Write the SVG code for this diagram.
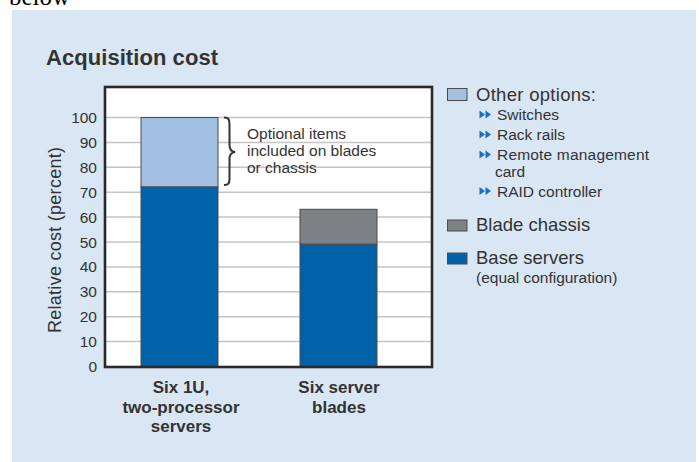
<svg xmlns="http://www.w3.org/2000/svg" width="699" height="462" viewBox="0 0 699 462">
<defs>
<style>
.t{font-family:"Liberation Sans",Arial,sans-serif;fill:#333}
.tick{font-size:15.5px;text-anchor:end}
.grid{stroke:#c4c4c4;stroke-width:1.5}
.bar{stroke:#4a4a4a;stroke-width:1}
.cat{font-size:17px;font-weight:bold;text-anchor:middle}
.leg{font-size:18.5px}
.sub{font-size:15.5px}
.dblue{fill:#0062a8}
.lblue{fill:#a3bfe1}
.gray{fill:#7e8184}
.bul{fill:#1a6fc0}
</style>
<g id="arrow2">
<polygon points="0,-4 5.5,0 0,4"/>
<polygon points="6,-4 11.5,0 6,4"/>
</g>
</defs>
<rect x="0" y="0" width="699" height="462" fill="#ffffff"/>
<text x="9" y="4.5" font-family="'Liberation Serif',serif" font-size="25" fill="#000">below</text>
<rect x="12" y="10" width="684" height="452" fill="#d9e6f4"/>
<text class="t" x="46" y="65" font-size="22" font-weight="bold" fill="#222" textLength="172">Acquisition cost</text>

<g id="plot">
<rect x="105" y="87" width="327" height="280" fill="#ffffff"/>
<g id="gridlines">
<line class="grid" x1="106" y1="117.5" x2="431" y2="117.5"/>
<line class="grid" x1="106" y1="142.4" x2="431" y2="142.4"/>
<line class="grid" x1="106" y1="167.3" x2="431" y2="167.3"/>
<line class="grid" x1="106" y1="192.2" x2="431" y2="192.2"/>
<line class="grid" x1="106" y1="217.1" x2="431" y2="217.1"/>
<line class="grid" x1="106" y1="242" x2="431" y2="242"/>
<line class="grid" x1="106" y1="266.9" x2="431" y2="266.9"/>
<line class="grid" x1="106" y1="291.8" x2="431" y2="291.8"/>
<line class="grid" x1="106" y1="316.7" x2="431" y2="316.7"/>
<line class="grid" x1="106" y1="341.6" x2="431" y2="341.6"/>
</g>
<g id="ticks" class="t">
<text class="tick" x="97" y="123">100</text>
<text class="tick" x="97" y="147.9">90</text>
<text class="tick" x="97" y="172.8">80</text>
<text class="tick" x="97" y="197.7">70</text>
<text class="tick" x="97" y="222.6">60</text>
<text class="tick" x="97" y="247.5">50</text>
<text class="tick" x="97" y="272.4">40</text>
<text class="tick" x="97" y="297.3">30</text>
<text class="tick" x="97" y="322.2">20</text>
<text class="tick" x="97" y="347.1">10</text>
<text class="tick" x="97" y="372">0</text>
</g>
<text class="t" transform="translate(61,240) rotate(-90)" font-size="18" text-anchor="middle" textLength="186">Relative cost (percent)</text>
</g>

<g id="bar-1u">
<rect class="bar lblue" x="141" y="117.5" width="77" height="69.5"/>
<rect class="bar dblue" x="141" y="187" width="77" height="179.5"/>
</g>
<g id="bar-blades">
<rect class="bar gray" x="300" y="209.3" width="77" height="35"/>
<rect class="bar dblue" x="300" y="244.3" width="77" height="122.2"/>
</g>

<rect x="105" y="87" width="327" height="280" fill="none" stroke="#2a2a2a" stroke-width="2.6"/>

<g id="brace-note">
<path d="M224,117.5 C229,117.5 229.5,120 229.5,125 L229.5,145 C229.5,149.5 231,151.5 235,152 C231,152.5 229.5,154.5 229.5,159 L229.5,178 C229.5,183 229,185 224,185" fill="none" stroke="#333" stroke-width="2"/>
<text class="t sub" x="247" y="139" fill="#444">Optional items</text>
<text class="t sub" x="247" y="156" fill="#444">included on blades</text>
<text class="t sub" x="247" y="173" fill="#444">or chassis</text>
</g>

<g id="cat-1u" class="t">
<text class="cat" x="181" y="393">Six 1U,</text>
<text class="cat" x="181" y="413">two-processor</text>
<text class="cat" x="181" y="432">servers</text>
</g>
<g id="cat-blades" class="t">
<text class="cat" x="339" y="393">Six server</text>
<text class="cat" x="339" y="413">blades</text>
</g>

<g id="legend-options">
<rect class="bar lblue" x="447.5" y="88.5" width="19.5" height="12"/>
<text class="t leg" x="476" y="100.5" textLength="120">Other options:</text>
<use href="#arrow2" class="bul" x="479.5" y="114.5"/>
<text class="t sub" x="497" y="120">Switches</text>
<use href="#arrow2" class="bul" x="479.5" y="134.5"/>
<text class="t sub" x="497" y="140">Rack rails</text>
<use href="#arrow2" class="bul" x="479.5" y="154.5"/>
<text class="t sub" x="497" y="160" textLength="152">Remote management</text>
<text class="t sub" x="495" y="177">card</text>
<use href="#arrow2" class="bul" x="479.5" y="191"/>
<text class="t sub" x="497" y="196.5">RAID controller</text>
</g>
<g id="legend-chassis">
<rect class="bar gray" x="447.5" y="220" width="19.5" height="11"/>
<text class="t leg" x="476" y="230.5">Blade chassis</text>
</g>
<g id="legend-base">
<rect class="bar dblue" x="447.5" y="253" width="19.5" height="11"/>
<text class="t leg" x="476" y="264">Base servers</text>
<text class="t sub" x="476" y="283">(equal configuration)</text>
</g>
</svg>
